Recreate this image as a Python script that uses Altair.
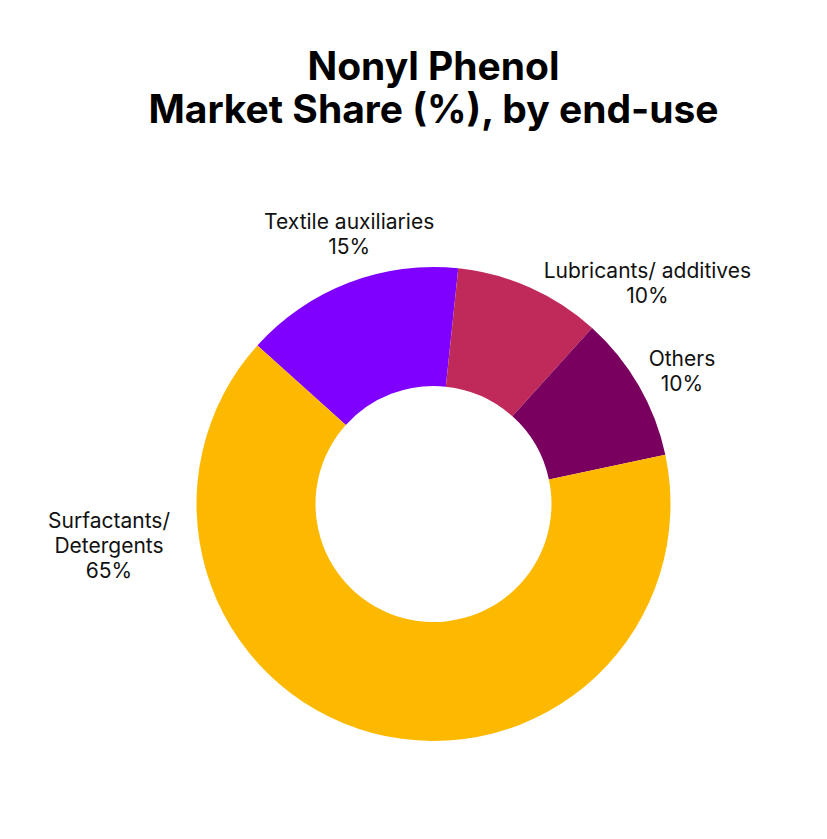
import math
import altair as alt
import pandas as pd

# ---- data ----
categories = ["Textile auxiliaries", "Lubricants/ additives", "Others", "Surfactants/ Detergents"]
label_names = ["Textile auxiliaries", "Lubricants/ additives", "Others", "Surfactants/\nDetergents"]
shares = [15, 10, 10, 65]
colors = ["#7F00FF", "#BF2A5A", "#7A0060", "#FDB900"]

df = pd.DataFrame({
    "idx": list(range(len(categories))),
    "category": categories,
    "name": label_names,
    "share": shares,
})

start = math.radians(-48)
theta_scale = alt.Scale(domain=[0, 100], range=[start, start + 2 * math.pi])
color_scale = alt.Scale(domain=categories, range=colors)

base = alt.Chart(df).transform_window(
    cum="sum(share)", sort=[alt.SortField("idx")], frame=[None, 0]
).transform_calculate(
    mid="datum.cum - datum.share / 2",
    label="datum.name + '\\n' + datum.share + '%'",
)

arcs = base.mark_arc(outerRadius=237, innerRadius=118, stroke=None).encode(
    theta=alt.Theta("share:Q", stack=True, scale=theta_scale),
    order=alt.Order("idx:Q"),
    color=alt.Color("category:N", scale=color_scale, legend=None),
)

# label placement offsets (from slice mid-angle at radius 280)
label_offsets = {
    "Textile auxiliaries": (16, -20),
    "Lubricants/ additives": (100, 24),
    "Others": (6, -4),
    "Surfactants/ Detergents": (-252, -252),
}

label_layers = []
for cat in categories:
    dx, dy = label_offsets[cat]
    label_layers.append(
        base.transform_filter(alt.datum.category == cat).mark_text(
            radius=280, dx=dx, dy=dy, align="center", baseline="middle",
            lineBreak="\n", lineHeight=25, fontSize=21, font="Inter",
            color="#111111",
        ).encode(
            theta=alt.Theta("mid:Q", scale=theta_scale),
            text="label:N",
        )
    )

chart = alt.layer(arcs, *label_layers).properties(
    width=771,
    height=654,
    padding={"left": 40, "top": 169, "right": 0, "bottom": 0},
    autosize=alt.AutoSizeParams(type="none"),
    title=alt.TitleParams(
        text=["Nonyl Phenol", "Market Share (%), by end-use"],
        font="Inter", fontSize=39, fontWeight="bold", color="#000000",
        lineHeight=43, anchor="middle", orient="top", frame="group",
        baseline="bottom", offset=7,
    ),
).configure_view(stroke=None).configure(background="#ffffff")

chart.save("out.html", embed_options={"renderer": "svg", "actions": False})
